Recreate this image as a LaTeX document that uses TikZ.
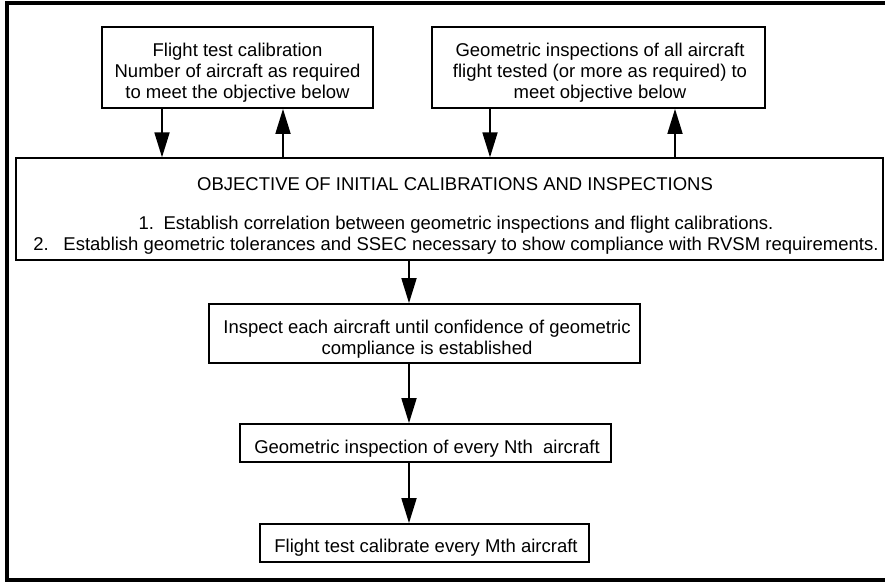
\documentclass[tikz,border=0pt]{standalone}
\usepackage{fontspec}
\setmainfont{Liberation Sans}
\usetikzlibrary{arrows.meta}
\begin{document}
\begin{tikzpicture}[x=1pt,y=-1pt,
  box/.style={draw=black,line width=1.8pt,inner sep=0pt},
  txt/.style={inner sep=0pt,align=center,anchor=base,
    font=\fontsize{18.5}{21}\selectfont},
  arr/.style={line width=1.8pt,-{Triangle[length=25pt,width=15pt]}}]
\useasboundingbox (0,0) rectangle (885,581);
\clip (0,0) rectangle (885,581);
\fill[white] (0,0) rectangle (885,581);
% outer frame (right side lies off the picture)
\draw[line width=4pt] (900,2.5) -- (7,2.5) -- (7,579.5) -- (900,579.5);
% boxes
\node[box,minimum width=271pt,minimum height=81pt] (b1) at (237.5,67.5) {};
\node[box,minimum width=333pt,minimum height=81pt] (b2) at (598.5,67.5) {};
\node[box,line width=1.3pt,minimum width=867pt,minimum height=102pt] (obj) at (449.5,209) {};
\node[box,minimum width=431pt,minimum height=59pt] (ins) at (424.5,333.5) {};
\node[box,minimum width=371pt,minimum height=38pt] (nth) at (425.5,443) {};
\node[box,minimum width=329pt,minimum height=38pt] (mth) at (424.5,543) {};
% texts (anchor=base is the baseline of the last line)
\node[txt] (b1t) at (237.5,98.3)
  {Flight test calibration\\Number of aircraft as required\\to meet the objective below};
\node[txt] (b2t) at (600,98.3)
  {Geometric inspections of all aircraft\\flight tested (or more as required) to\\meet objective below};
\node[txt] (objt) at (455,190) {OBJECTIVE OF INITIAL CALIBRATIONS AND INSPECTIONS};
\node[txt] (objl) at (456,250)
  {1.\hspace{0.52em}Establish correlation between geometric inspections and flight calibrations.\\
   2.\hspace{0.79em}Establish geometric tolerances and SSEC necessary to show compliance with RVSM requirements.};
\node[txt] (inst) at (427,354)
  {Inspect each aircraft until confidence of geometric\\compliance is established};
\node[txt] (ntht) at (427,453.3) {Geometric inspection of every Nth\hspace{0.556em}aircraft};
\node[txt] (mtht) at (426,552.7) {Flight test calibrate every Mth aircraft};
% connectors
\draw[arr] (162,0 |- b1.south) -- (162,0 |- obj.north);
\draw[arr] (283,0 |- obj.north) -- (283,0 |- b1.south);
\draw[arr] (490,0 |- b2.south) -- (490,0 |- obj.north);
\draw[arr] (675,0 |- obj.north) -- (675,0 |- b2.south);
\draw[arr] (409,0 |- obj.south) -- (409,0 |- ins.north);
\draw[arr] (409,0 |- ins.south) -- (409,0 |- nth.north);
\draw[arr] (409,0 |- nth.south) -- (409,0 |- mth.north);
\end{tikzpicture}
\end{document}
